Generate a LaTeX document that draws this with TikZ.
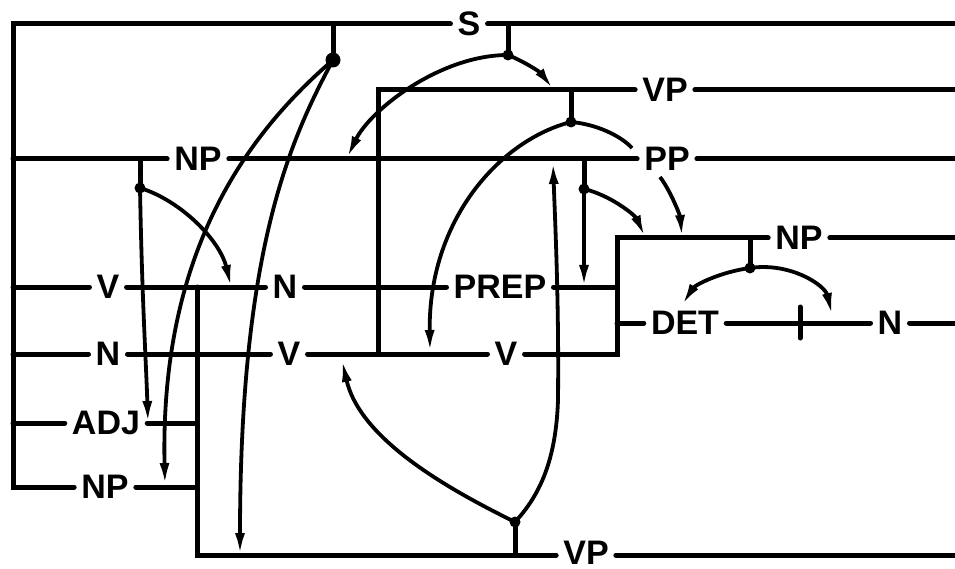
\documentclass[tikz,border=0pt]{standalone}
\usepackage{fontspec}
\setmainfont{Liberation Sans}
\usetikzlibrary{arrows.meta}
\tikzset{
  ln/.style={line width=5pt,line cap=round,line join=miter},
  crv/.style={line width=3.8pt},
  arr/.style={crv,-{Latex[length=22pt,width=10pt]}},
  lbl/.style={inner xsep=7pt,inner ysep=0pt,font=\bfseries\fontsize{34}{34}\selectfont},
}
\begin{document}
\begin{tikzpicture}[x=1pt,y=-1pt]
\useasboundingbox[fill=white] (0,0) rectangle (955,569);
% labels
\node[lbl] (S)   at (469,24)  {S};
\node[lbl] (VPt) at (665,90)  {VP};
\node[lbl] (NPl) at (198,159) {NP};
\node[lbl] (PP)  at (667,159) {PP};
\node[lbl] (NP2) at (799,238) {NP};
\node[lbl] (V1)  at (108,287) {V};
\node[lbl] (N1)  at (285,287) {N};
\node[lbl] (PREP) at (500,287) {PREP};
\node[lbl] (DET) at (685,323) {DET};
\node[lbl] (N3)  at (890,323) {N};
\node[lbl] (N2)  at (108,354) {N};
\node[lbl] (V2)  at (289,354) {V};
\node[lbl] (V3)  at (506,354) {V};
\node[lbl] (ADJ) at (106,423) {ADJ};
\node[lbl] (NPb) at (105,487) {NP};
\node[lbl] (VPb) at (586,553) {VP};
% coordinates
\coordinate (tl) at (13,24);
\coordinate (bl) at (13,487);
\coordinate (jS1) at (333,24);  \coordinate (dS1) at (333,60);
\coordinate (jS2) at (508,24);  \coordinate (dS2) at (508,55);
\coordinate (eS) at (955,24);
\coordinate (cVP) at (378,90);  \coordinate (eVP) at (955,90);
\coordinate (jVP) at (571,90);  \coordinate (dVP) at (571,122);
\coordinate (lNP) at (13,159);  \coordinate (ePP) at (955,159);
\coordinate (jNP) at (140,159); \coordinate (dNP) at (140,188);
\coordinate (jPP) at (584,159); \coordinate (dPP) at (584,189);
\coordinate (aPREP) at (584,287);
\coordinate (cNP2) at (617,238); \coordinate (eNP2) at (955,238);
\coordinate (jNP2) at (750,238); \coordinate (dNP2) at (750,268);
\coordinate (lV1) at (13,287);
\coordinate (cV1) at (197,287);
\coordinate (rPREP) at (617,287);
\coordinate (lDET) at (617,323);
\coordinate (eN3) at (955,323);
\coordinate (tickT) at (800,307); \coordinate (tickB) at (800,338);
\coordinate (lN2) at (13,354);
\coordinate (cVrow) at (378,354);
\coordinate (cV3r) at (617,354);
\coordinate (lADJ) at (13,423); \coordinate (rADJ) at (197,423);
\coordinate (rNPb) at (197,487);
\coordinate (cVPb) at (197,555); \coordinate (eVPb) at (955,555);
\coordinate (jVPb) at (515,555); \coordinate (dVPb) at (515,522);
% straight lines
\draw[ln] (S.west) -- (tl) -- (bl) -- (NPb.west);
\draw[ln] (S.east) -- (eS);
\draw[ln] (jS1) -- (dS1);
\draw[ln] (jS2) -- (dS2);
\draw[ln] (VPt.west) -- (cVP) -- (cVrow);
\draw[ln] (VPt.east) -- (eVP);
\draw[ln] (jVP) -- (dVP);
\draw[ln] (lNP) -- (NPl.west);
\draw[ln] (NPl.east) -- (PP.west);
\draw[ln] (PP.east) -- (ePP);
\draw[ln] (jNP) -- (dNP);
\draw[ln] (jPP) -- (dPP);
\draw[ln] (NP2.west) -- (cNP2) -- (cV3r) -- (V3.east);
\draw[ln] (NP2.east) -- (eNP2);
\draw[ln] (jNP2) -- (dNP2);
\draw[ln] (lV1) -- (V1.west);
\draw[ln] (V1.east) -- (N1.west);
\draw[ln] (N1.east) -- (PREP.west);
\draw[ln] (PREP.east) -- (rPREP);
\draw[ln] (cV1) -- (cVPb) -- (VPb.west |- cVPb);
\draw[ln] (VPb.east |- eVPb) -- (eVPb);
\draw[ln] (jVPb) -- (dVPb);
\draw[ln] (lDET) -- (DET.west);
\draw[ln] (DET.east) -- (N3.west);
\draw[ln] (N3.east) -- (eN3);
\draw[ln] (tickT) -- (tickB);
\draw[ln] (lN2) -- (N2.west);
\draw[ln] (N2.east) -- (V2.west);
\draw[ln] (V2.east) -- (V3.west);
\draw[ln] (lADJ) -- (ADJ.west);
\draw[ln] (ADJ.east) -- (rADJ);
\draw[ln] (NPb.east) -- (rNPb);
% curved connectors
\coordinate (tS2l) at (347,158);
\coordinate (tS2r) at (553,89);
\coordinate (tS1a) at (165,485);
\coordinate (tS1b) at (240,555);
\coordinate (tNPa) at (231,287);
\coordinate (tNPb) at (148,423);
\coordinate (eVPr) at (632,148);
\coordinate (tVPl) at (430,352);
\coordinate (tPPr) at (645,237);
\coordinate (sPP) at (660,177);
\coordinate (tPPd) at (682,237);
\coordinate (tNP2l) at (682,305);
\coordinate (tNP2r) at (832,315);
\coordinate (mVPb) at (558,400);
\coordinate (tVPbu) at (553,162);
\coordinate (tVPbl) at (342,360);
\draw[arr] (dS2) .. controls (440,55) and (370,110) .. (tS2l);
\draw[arr] (dS2) .. controls (525,62) and (540,72) .. (tS2r);
\draw[arr] (dS1) .. controls (240,140) and (160,260) .. (tS1a);
\draw[arr] (dS1) .. controls (290,140) and (240,250) .. (tS1b);
\draw[arr] (dNP) .. controls (180,200) and (220,240) .. (tNPa);
\draw[arr] (dNP) .. controls (142,300) and (146,360) .. (tNPb);
\draw[crv] (dVP) .. controls (595,124) and (620,135) .. (eVPr);
\draw[arr] (dVP) .. controls (500,140) and (428,220) .. (tVPl);
\draw[arr] (dPP) -- (aPREP);
\draw[arr] (dPP) .. controls (610,195) and (635,215) .. (tPPr);
\draw[arr] (sPP) .. controls (670,190) and (680,215) .. (tPPd);
\draw[arr] (dNP2) .. controls (720,272) and (695,285) .. (tNP2l);
\draw[arr] (dNP2) .. controls (790,262) and (825,285) .. (tNP2r);
\draw[arr] (dVPb) .. controls (540,495) and (556,460) .. (mVPb) .. controls (559,300) and (555,220) .. (tVPbu);
\draw[arr] (dVPb) .. controls (450,490) and (360,440) .. (tVPbl);
% dots
\fill (dS1) circle (7.5);
\foreach \d in {dS2,dVP,dNP,dPP,dNP2,dVPb} \fill (\d) circle (5.5);
\end{tikzpicture}
\end{document}
